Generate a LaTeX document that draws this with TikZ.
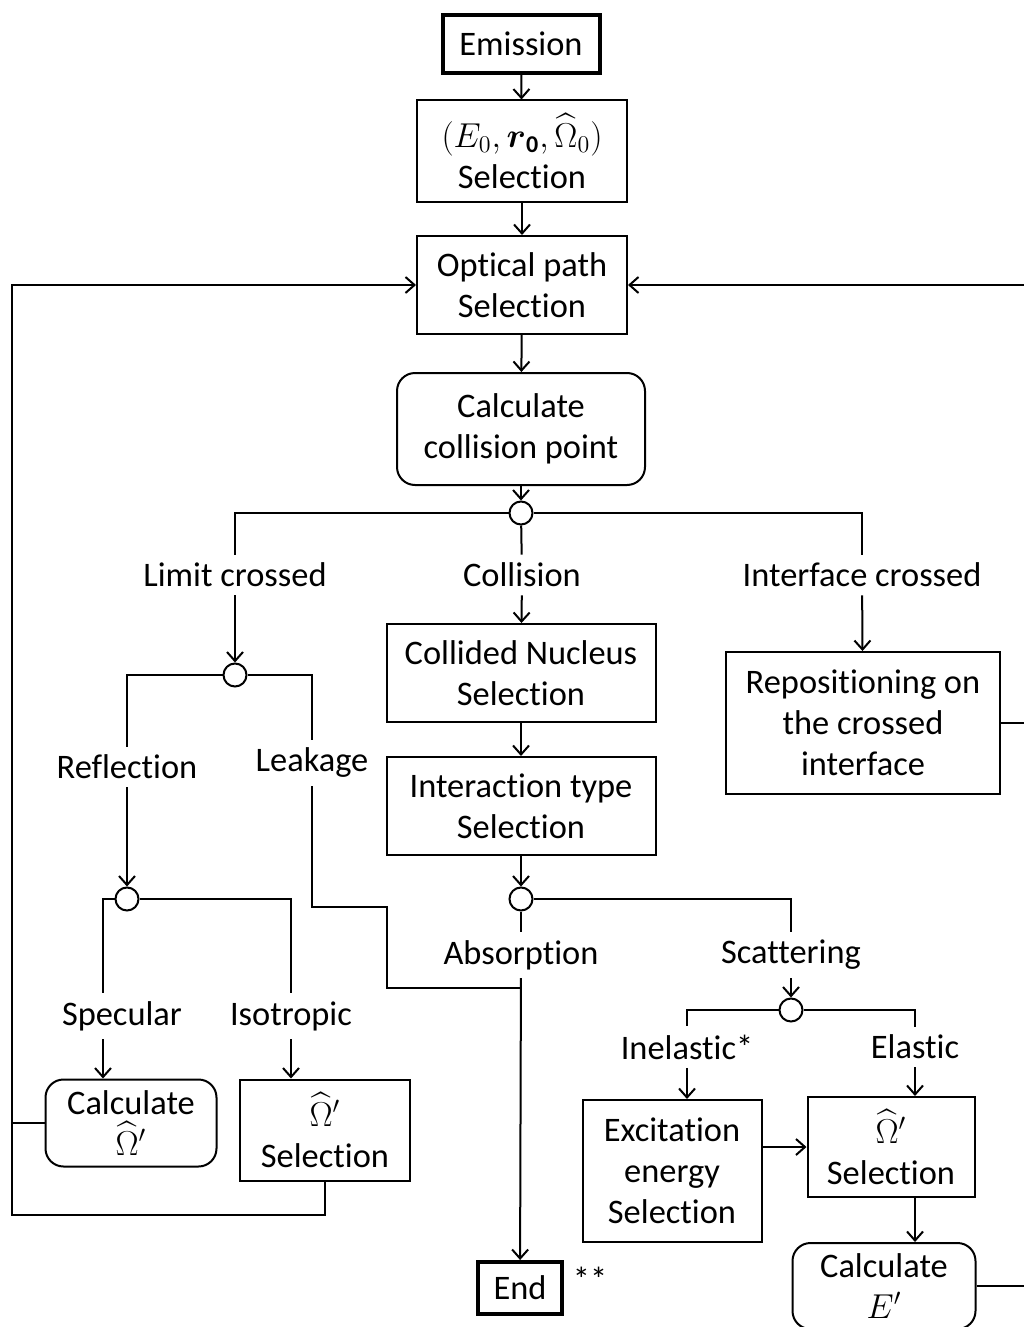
\documentclass[tikz,border=0pt]{standalone}
\usepackage{amsmath}
\usepackage{fontspec}
\setmainfont{Carlito}[Ligatures=NoCommon]
\usetikzlibrary{arrows.meta}

\begin{document}
\begin{tikzpicture}[x=0.5pt,y=-0.5pt,font=\fontsize{17.2}{20.5}\selectfont]
\tikzstyle{box} = [
  draw, line width=1pt,
  align=center, inner sep=0pt
]
\tikzstyle{rbox} = [box, rounded corners=9pt]
\tikzstyle{tbox} = [box, line width=2pt]
\tikzstyle{jct} = [
  shape=circle, draw, line width=1pt,
  minimum size=11.5pt, inner sep=0pt, fill=white
]
\tikzstyle{lab} = [inner sep=4pt]
\tikzstyle{ln} = [line width=1pt]
\tikzstyle{arr} = [ln, -{Straight Barb[length=4.5pt,width=8pt]}]

\useasboundingbox (0,0) rectangle (1023,1327);

% main column
\node [tbox, minimum width=78.5pt, minimum height=29pt] (emis) at (521,44) {Emission};
\node [box, minimum width=105pt, minimum height=50.5pt] (init) at (522,151)
  {$(E_0,\boldsymbol{r}_{\mathbf{0}},\widehat{\Omega}_0)$\\Selection};
\node [box, minimum width=105pt, minimum height=49pt] (path) at (522,285) {Optical path\\Selection};
\node [rbox, minimum width=124pt, minimum height=56pt] (calc) at (521,429) {Calculate\\collision point};
\node [jct] (j1) at (521,513) {};

\node [lab] (limit) at (235,575) {Limit crossed};
\node [lab] (coll) at (522,575) {Collision};
\node [lab] (iface) at (862,575) {Interface crossed};

\node [box, minimum width=134.5pt, minimum height=49pt] (nucl) at (521,673) {Collided Nucleus\\Selection};
\node [box, minimum width=134.5pt, minimum height=49pt] (inter) at (521,806) {Interaction type\\Selection};
\node [box, minimum width=137pt, minimum height=71pt] (repos) at (863,723) {Repositioning on\\the crossed\\interface};

% limit branch
\node [jct] (j2) at (235,675) {};
\node [lab] (refl) at (127,767) {Reflection};
\node [lab] (leak) at (312,763) {Leakage};
\node [jct] (j4) at (127,899) {};
\node [lab] (spec) at (122,1016) {Specular};
\node [lab] (iso) at (291,1016) {Isotropic};
\node [rbox, minimum width=85.5pt, minimum height=43.5pt] (calcO) at (131,1123) {Calculate\\$\widehat{\Omega}'$};
\node [box, minimum width=85pt, minimum height=50.5pt] (selO) at (325,1130) {$\widehat{\Omega}'$\\Selection};

% collision branch
\node [jct] (j3) at (521,899) {};
\node [lab] (absn) at (521,955) {Absorption};
\node [lab] (scat) at (791,955) {Scattering};
\node [jct] (j5) at (791,1010) {};
\node [lab] (inel) at (687,1047) {Inelastic*};
\node [lab] (elas) at (915,1047) {Elastic};
\node [box, minimum width=89.5pt, minimum height=71pt] (excit) at (672,1171) {Excitation\\energy\\Selection};
\node [box, minimum width=83.5pt, minimum height=50pt] (selE) at (891,1147) {$\widehat{\Omega}'$\\Selection};
\node [rbox, minimum width=91.5pt, minimum height=43pt] (calcE) at (884,1286) {Calculate\\$E'$};
\node [tbox, minimum width=42pt, minimum height=26pt] (end) at (520,1288) {End};
\node [lab] (star) at (590,1279) {**};

\coordinate (k1) at (387,907);
\coordinate (k2) at (387,988);
\coordinate (lb) at (12,1215);
\coordinate (rb) at (1040,285);

\draw[arr] (emis) -- (init);
\draw[arr] (init) -- (path);
\draw[arr] (path) -- (calc);
\draw[arr] (calc) -- (j1);
\draw[ln] (j1) -| (limit);
\draw[ln] (j1) -| (iface);
\draw[ln] (j1) -- (coll);
\draw[arr] (limit) -- (j2);
\draw[arr] (coll) -- (nucl);
\draw[arr] (iface) -- (repos);
\draw[arr] (nucl) -- (inter);
\draw[arr] (inter) -- (j3);

\draw[ln] (j2) -| (refl);
\draw[ln] (j2) -| (leak);
\draw[arr] (refl) -- (j4);
\draw[ln] (j4) -| ([xshift=-9.5pt]spec.north);
\draw[ln] (j4) -| (iso);
\draw[arr] ([xshift=-9.5pt]spec.south) -- ([xshift=-9.5pt]spec.south |- calcO.north);
\draw[arr] (iso) -- (iso |- selO.north);
\draw[ln] (leak) |- (k1) -- (k2) -- (k2 -| absn);

\draw[ln] (j3) -- (absn);
\draw[ln] (j3) -| (scat);
\draw[arr] (absn) -- (end);
\draw[arr] (scat) -- (j5);
\draw[ln] (j5) -| (inel);
\draw[ln] (j5) -| (elas);
\draw[arr] (inel) -- (inel |- excit.north);
\draw[arr] (elas) -- (elas |- selE.north);
\draw[arr] (excit.east |- selE) -- (selE);
\draw[arr] (selE.south -| elas) -- (calcE.north -| elas);

% loops back to optical path
\draw[ln] (calcO.west) -- (calcO.west -| lb);
\draw[arr] (selO.south) |- (lb) |- (path.west);
\draw[ln] (repos.east) -- (repos.east -| rb);
\draw[ln] (calcE.east) -- (calcE.east -| rb) -- (rb);
\draw[arr] (rb) -- (path.east);

\end{tikzpicture}
\end{document}
